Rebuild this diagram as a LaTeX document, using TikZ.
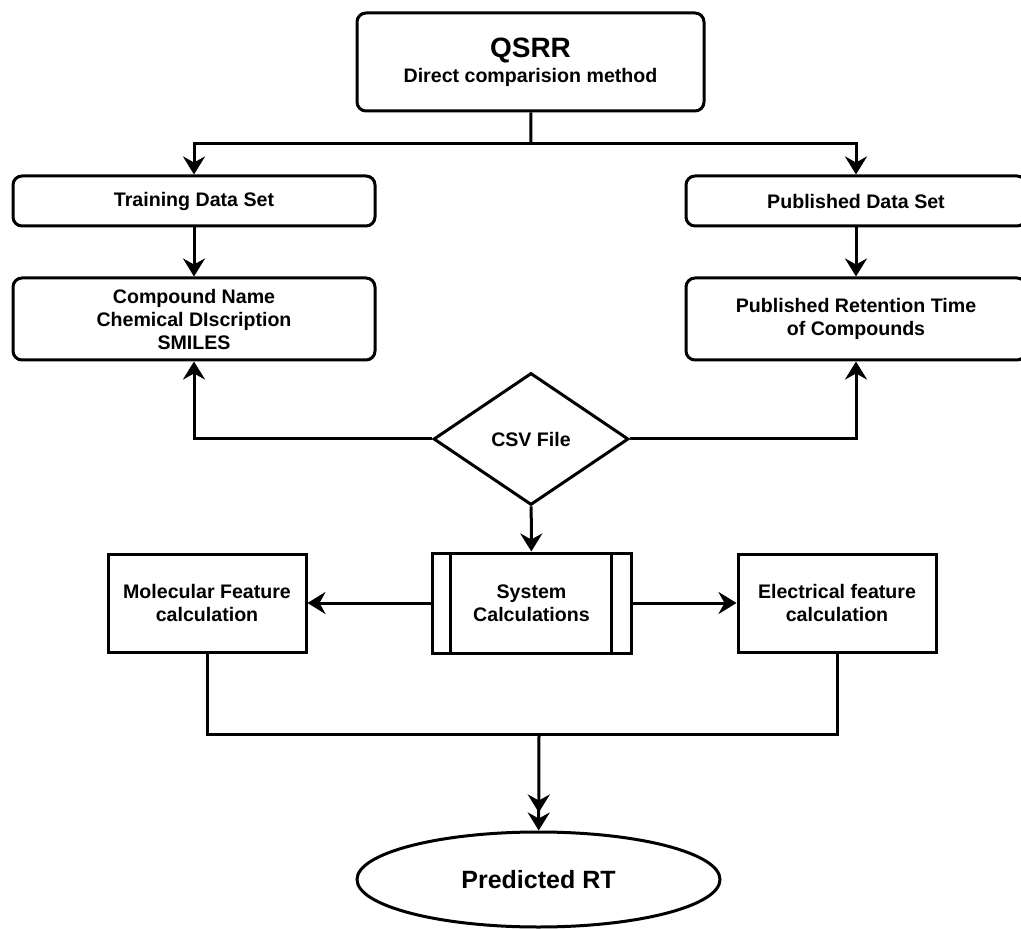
\documentclass[tikz,border=0pt]{standalone}
\usepackage{fontspec}
\setmainfont{Liberation Sans}
\usetikzlibrary{shapes,arrows.meta,positioning}

\tikzset{
  roundbox/.style={draw, rectangle, rounded corners=4.5pt, line width=1.5pt, align=center, inner sep=2pt},
  sqbox/.style={draw, rectangle, line width=1.5pt, align=center, inner sep=2pt},
  link/.style={line width=1.5pt},
  arr/.style={link, -{Stealth[length=9pt,width=11pt,inset=3pt]}}
}

\begin{document}
\begin{tikzpicture}[x=0.5pt, y=-0.5pt, every node/.style={font=\bfseries\fontsize{9.8}{11.5}\selectfont}]
	\useasboundingbox (0,0) rectangle (1021,929);
	% top of the chart
	\node[roundbox, minimum width=173.5pt, minimum height=49pt] (qsrr) at (530.5,62) {{\fontsize{14}{16}\selectfont QSRR}\\[1pt]Direct comparision method};
	\node[roundbox, minimum width=181pt, minimum height=25pt] (train) at (194,201) {Training Data Set};
	\node[roundbox, minimum width=170pt, minimum height=25pt] (pubset) at (856,201) {Published Data Set};
	\node[roundbox, minimum width=181pt, minimum height=41pt] (compound) [below=24.5pt of train] {Compound Name\\Chemical DIscription\\SMILES};
	\node[roundbox, minimum width=170pt, minimum height=41pt] (pubrt) [below=24.5pt of pubset] {Published Retention Time\\of Compounds};
	% middle
	\node[draw, diamond, line width=1.5pt, aspect=1.48, minimum width=97.5pt, minimum height=66pt, inner sep=0pt] (csv) at (531,439) {CSV File};
	\node[sqbox, minimum width=99.5pt, minimum height=50pt] (sys) at (531.5,603) {System\\Calculations};
	\node[sqbox, minimum width=99pt, minimum height=49pt] (mol) [left=61.5pt of sys] {Molecular Feature\\calculation};
	\node[sqbox, minimum width=99pt, minimum height=49pt] (elec) [right=52pt of sys] {Electrical feature\\calculation};
	\draw[link] ([xshift=10pt]sys.north west) -- ([xshift=10pt]sys.south west);
	\draw[link] ([xshift=-10.5pt]sys.north east) -- ([xshift=-10.5pt]sys.south east);
	% bottom
	\node[draw, ellipse, line width=1.5pt, minimum width=181.5pt, minimum height=47.5pt] (rt) at (538.5,879.5) {\fontsize{12.5}{14}\selectfont Predicted RT};
	\coordinate (split) at (531,144);
	\coordinate (join) at (539,734);
	% connectors
	\draw[link] (qsrr) -- (split);
	\draw[arr] (split) -| (train.north);
	\draw[arr] (split) -| (pubset.north);
	\draw[arr] (train) -- (compound);
	\draw[arr] (pubset) -- (pubrt);
	\draw[arr] (csv.west) -| (compound.south);
	\draw[arr] (csv.east) -| (pubrt.south);
	\draw[arr] (csv) -- (sys);
	\draw[arr] (sys) -- (mol);
	\draw[arr] (sys) -- (elec);
	\draw[link] (mol.south) |- (join);
	\draw[link] (elec.south) |- (join);
	\draw[link, -{Stealth[length=9pt,width=11pt,inset=3pt,sep=0pt]Stealth[length=9pt,width=11pt,inset=3pt]}] (join) -- (rt);
\end{tikzpicture}
\end{document}
